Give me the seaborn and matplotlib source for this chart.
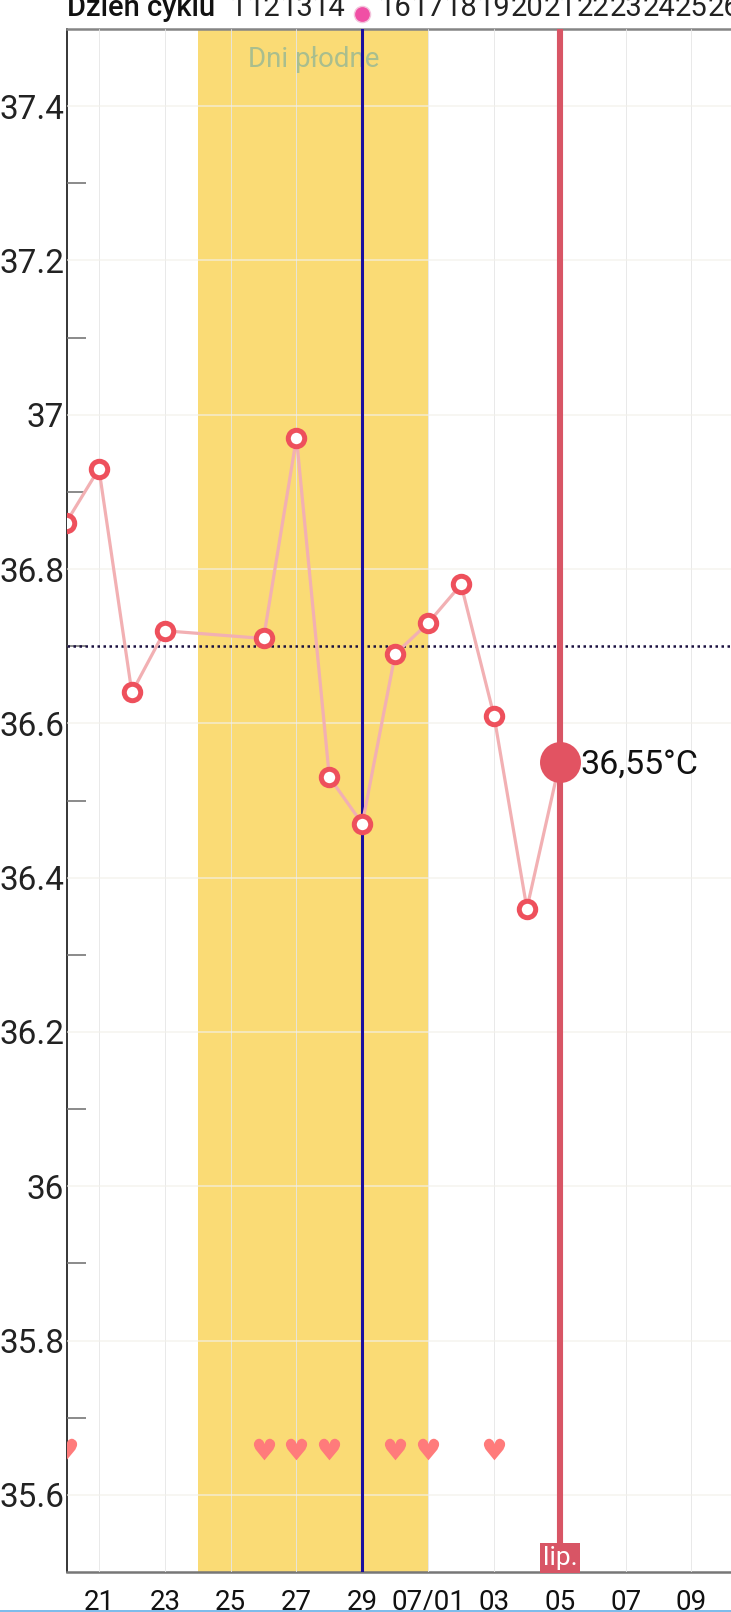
import matplotlib
matplotlib.use("Agg")
import matplotlib.pyplot as plt
from matplotlib.patches import Rectangle
import pandas as pd
import seaborn as sns

# ---------- DATA ----------
# x = days counted from 20 June
temp_days = [0, 1, 2, 3, 6, 7, 8, 9, 10, 11, 12, 13, 14, 15]
temp_values = [36.86, 36.93, 36.64, 36.72, 36.71, 36.97, 36.53, 36.47, 36.69, 36.73, 36.78, 36.61, 36.36, 36.55]
heart_days = [0, 6, 7, 8, 10, 11, 13]
heart_level = [35.66] * len(heart_days)
date_ticks = [1, 3, 5, 7, 9, 11, 13, 15, 17, 19]
date_labels = ["21", "23", "25", "27", "29", "07/01", "03", "05", "07", "09"]
temp_ticks = [35.6, 35.8, 36.0, 36.2, 36.4, 36.6, 36.8, 37.0, 37.2, 37.4]
temp_labels = ["35.6", "35.8", "36", "36.2", "36.4", "36.6", "36.8", "37", "37.2", "37.4"]
minor_ticks = [35.7, 35.9, 36.1, 36.3, 36.5, 36.7, 36.9, 37.1, 37.3]
cycle_days = [5, 6, 7, 8, 10, 11, 12, 13, 14, 15, 16, 17, 18, 19, 20]
cycle_labels = ["11", "12", "13", "14", "16", "17", "18", "19", "20", "21", "22", "23", "24", "25", "26"]
fertile_start, fertile_end = 4, 11
ovulation_day = 9
today_day, today_temp = 15, 36.55
cover_line = 36.7

df = pd.DataFrame({"day": temp_days, "temp": temp_values})
hearts = pd.DataFrame({"day": heart_days, "temp": heart_level})

sns.set_style("white")
plt.rcParams["font.family"] = ["Roboto", "DejaVu Sans"]

W, H = 731, 1612
fig = plt.figure(figsize=(W / 100, H / 100), dpi=100)
ax = fig.add_axes([67 / W, (H - 1572) / H, (W - 67) / W, (1572 - 29) / H])
ax.set_xlim(0.03, 20.2)
ax.set_ylim(35.5, 37.5)

# ---------- BACKGROUND ----------
ax.axvspan(fertile_start, fertile_end, color="#FADB75", lw=0, zorder=0)
ax.set_axisbelow(False)
ax.set_xticks(date_ticks)
ax.set_xticklabels(date_labels, fontsize=20, color="#111111")
ax.set_yticks(temp_ticks)
ax.set_yticklabels(temp_labels, fontsize=24, color="#222222")
ax.set_yticks(minor_ticks, minor=True)
ax.tick_params(axis="both", which="major", length=0)
ax.tick_params(axis="x", pad=12)
ax.tick_params(axis="y", pad=2)
ax.tick_params(axis="y", which="minor", length=14, width=1.2, color="#777777", direction="in", left=True)
ax.grid(axis="x", color="#E6E6E6", lw=0.7, alpha=0.9)
ax.grid(axis="y", color="#F3F1EA", lw=1.3, alpha=0.65)
for gl in ax.get_xgridlines() + ax.get_ygridlines():
    gl.set_zorder(1)

ax.spines["left"].set_color("#000000")
ax.spines["left"].set_linewidth(1.1)
ax.spines["top"].set_color("#858585")
ax.spines["top"].set_linewidth(1.8)
ax.spines["bottom"].set_color("#777777")
ax.spines["bottom"].set_linewidth(1.8)
ax.spines["right"].set_visible(False)

ax.text(7.52, 37.46, "Dni płodne", fontsize=20, color="#A9BE8E", ha="center", va="center", zorder=2)

# ---------- LINES ----------
ax.axhline(cover_line, color="#1A1040", lw=1.8, ls=(0, (1.0, 1.4)), zorder=3)
ax.axvline(ovulation_day, color="#1A0F9E", lw=2.2, zorder=4)
ax.axvline(today_day, color="#D85565", lw=4.4, zorder=4)

sns.lineplot(data=df, x="day", y="temp", color="#F2B0B3", lw=2.3, ax=ax, zorder=5)
sns.scatterplot(data=df[df["day"] != today_day], x="day", y="temp", s=140, color="white",
                edgecolor="#EE505C", linewidth=3.6, ax=ax, zorder=6)
ax.scatter([today_day], [today_temp], s=870, color="#E25362", lw=0, zorder=7)
ax.text(today_day + 0.62, today_temp - 0.003, "36,55°C", fontsize=24.5, color="#111111", va="center", zorder=8)

sns.scatterplot(data=hearts, x="day", y="temp", marker="$\u2665$", s=240, color="#FF7B7B",
                linewidth=0, ax=ax, zorder=6)
ax.set_xlabel("")
ax.set_ylabel("")

# ---------- LABELS OVER THE PLOT ----------
ax.text(today_day, 35.518, "lip.", fontsize=19, color="white", ha="center", va="center", zorder=9,
        bbox=dict(boxstyle="square,pad=0.1", fc="#D85565", ec="none"))

top = ax.get_xaxis_transform()
for d, lab in zip(cycle_days, cycle_labels):
    ax.text(d, 1.0135, lab, transform=top, fontsize=21, color="#222222", ha="center", va="center", clip_on=False)
ax.scatter([ovulation_day], [1.0095], s=135, color="#F04FA5", edgecolor="#F3C4DC", linewidth=1,
           transform=top, clip_on=False, zorder=9)

# header label sits on a white block that hides the first digit of "11"
fig.add_artist(Rectangle((60 / W, 1 - 27 / H), (231 - 60) / W, 27 / H, transform=fig.transFigure,
                         fc="white", ec="none", zorder=5))
fig.text(67 / W, 1 - 8 / H, "Dzień cyklu", fontsize=21, fontweight="medium", color="#111111", va="center", zorder=10)

# light blue edge at the bottom of the screenshot
fig.add_artist(Rectangle((0, 0), 1, 2.5 / H, transform=fig.transFigure, fc="#7DBCEB", ec="none", zorder=5))

fig.savefig("out.png", dpi=100)
